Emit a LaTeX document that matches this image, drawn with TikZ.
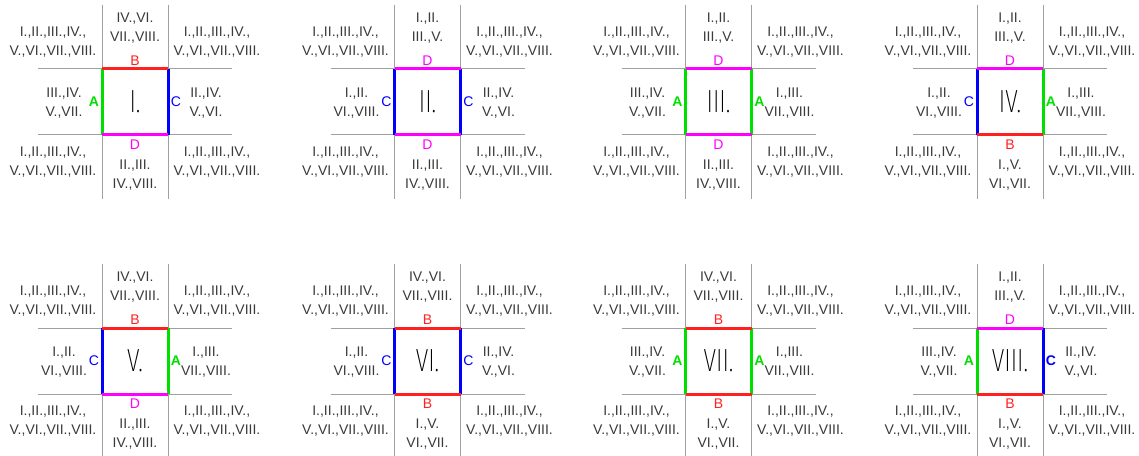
\documentclass[tikz,border=0pt]{standalone}
\usepackage{fontspec}
\setmainfont{Liberation Sans}
\newfontfamily\thinfont{Fira Sans ExtraLight}
\definecolor{txtgray}{HTML}{3A3A3A}
\definecolor{linegray}{HTML}{A0A0A0}
\definecolor{cA}{HTML}{00E000}
\definecolor{cB}{HTML}{FF2020}
\definecolor{cC}{HTML}{0000FF}
\definecolor{cD}{HTML}{FF00FF}
\def\txtTopB{IV.,VI.\\VII.,VIII.}
\def\txtTopD{I.,II.\\III.,V.}
\def\txtLeftA{III.,IV.\\V.,VII.}
\def\txtLeftC{I.,II.\\VI.,VIII.}
\def\txtRightC{II.,IV.\\V.,VI.}
\def\txtRightCb{II.,IV.\\V.,VI.}
\def\txtRightA{I.,III.\\VII.,VIII.}
\def\txtBottomD{II.,III.\\IV.,VIII.}
\def\txtBottomB{I.,V.\\VI.,VII.}
\def\txtCorner{I.,II.,III.,IV.,\\V.,VI.,VII.,VIII.}
\def\ltrA{A}\def\ltrB{B}\def\ltrC{C}\def\ltrCb{C}\def\ltrD{D}
\tikzset{
  lbl/.style={font=\fontsize{10.5}{14.25}\selectfont, text=txtgray, align=center, inner sep=0pt},
  gridline/.style={draw=linegray, line width=0.75pt},
  edgeline/.style={line width=2.25pt},
  edgeA/.style={edgeline, draw=cA},
  edgeB/.style={edgeline, draw=cB},
  edgeC/.style={edgeline, draw=cC},
  edgeCb/.style={edgeline, draw=cC},
  edgeD/.style={edgeline, draw=cD},
  bignum/.style={font=\thinfont\fontsize{24}{24}\selectfont, text=black, xscale=0.72, inner sep=0pt},
  tag/.style={font=\fontsize{10.5}{12}\selectfont, inner sep=0pt},
  tagA/.style={tag, text=cA, font=\bfseries\fontsize{10.5}{12}\selectfont},
  tagB/.style={tag, text=cB},
  tagC/.style={tag, text=cC},
  tagCb/.style={tag, text=cC, font=\bfseries\fontsize{10.5}{12}\selectfont},
  tagD/.style={tag, text=cD},
}
% #1 id, #2 cx, #3 cy, #4 numeral, #5 top, #6 left, #7 right, #8 bottom
\newcommand\drawpanel[8]{%
  \coordinate (#1tl) at ({#2-33},{#3-33});
  \coordinate (#1tr) at ({#2+33},{#3-33});
  \coordinate (#1bl) at ({#2-33},{#3+33});
  \coordinate (#1br) at ({#2+33},{#3+33});
  \coordinate (#1vlt) at ({#2-33},{#3-97});
  \coordinate (#1vlb) at ({#2-33},{#3+97});
  \coordinate (#1vrt) at ({#2+33},{#3-97});
  \coordinate (#1vrb) at ({#2+33},{#3+97});
  \coordinate (#1hlt) at ({#2-97},{#3-33});
  \coordinate (#1hrt) at ({#2+97},{#3-33});
  \coordinate (#1hlb) at ({#2-97},{#3+33});
  \coordinate (#1hrb) at ({#2+97},{#3+33});
  \draw[gridline] (#1vlt) -- (#1vlb);
  \draw[gridline] (#1vrt) -- (#1vrb);
  \draw[gridline] (#1hlt) -- (#1hrt);
  \draw[gridline] (#1hlb) -- (#1hrb);
  \draw[edge#6] (#1tl) -- (#1bl);
  \draw[edge#7] (#1tr) -- (#1br);
  \draw[edge#5] (#1tl) -- (#1tr);
  \draw[edge#8] (#1bl) -- (#1br);
  \node[bignum] (#1num) at (#2,#3) {#4};
  \node[tag#5] (#1tagt) at (#2,{#3-41}) {\csname ltr#5\endcsname};
  \node[tag#8] (#1tagb) at (#2,{#3+43}) {\csname ltr#8\endcsname};
  \node[tag#6] (#1tagl) at ({#2-41},#3) {\csname ltr#6\endcsname};
  \node[tag#7] (#1tagr) at ({#2+41},#3) {\csname ltr#7\endcsname};
  \node[lbl] (#1tt) at (#2,{#3-74}) {\csname txtTop#5\endcsname};
  \node[lbl] (#1bt) at (#2,{#3+73}) {\csname txtBottom#8\endcsname};
  \node[lbl] (#1lt) at ({#2-71},{#3+1}) {\csname txtLeft#6\endcsname};
  \node[lbl] (#1rt) at ({#2+71},{#3+1}) {\csname txtRight#7\endcsname};
  \node[lbl] (#1c1) at ({#2-82},{#3-60}) {\txtCorner};
  \node[lbl] (#1c2) at ({#2+82},{#3-60}) {\txtCorner};
  \node[lbl] (#1c3) at ({#2-82},{#3+60}) {\txtCorner};
  \node[lbl] (#1c4) at ({#2+82},{#3+60}) {\txtCorner};
}
\begin{document}
\begin{tikzpicture}[x=0.75pt,y=-0.75pt]
\useasboundingbox[fill=white] (0,0) rectangle (1139,456);
\drawpanel{p1}{135}{102}{I.}{B}{A}{C}{D}
\drawpanel{p2}{427.5}{102}{II.}{D}{C}{C}{D}
\drawpanel{p3}{718.5}{102}{III.}{D}{A}{A}{D}
\drawpanel{p4}{1010}{102}{IV.}{D}{C}{A}{B}
\drawpanel{p5}{135}{361}{V.}{B}{C}{A}{D}
\drawpanel{p6}{427.5}{361}{VI.}{B}{C}{C}{B}
\drawpanel{p7}{718.5}{361}{VII.}{B}{A}{A}{B}
\drawpanel{p8}{1010}{361}{VIII.}{D}{A}{Cb}{B}
\end{tikzpicture}
\end{document}
